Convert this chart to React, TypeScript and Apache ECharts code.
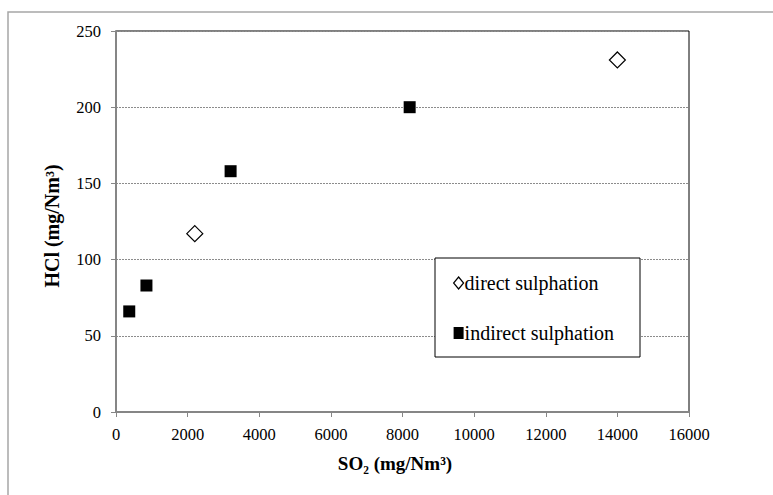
import React, { useEffect, useRef } from "react";
import * as echarts from "echarts";

const directSO2 = [2200, 14000];
const directHCl = [117, 231];
const indirectSO2 = [370, 850, 3200, 8200];
const indirectHCl = [66, 83, 158, 200];
const seriesNames = ["direct sulphation", "indirect sulphation"];
const xTitle = "SO\u2082 (mg/Nm\u00b3)";
const yTitle = "HCl (mg/Nm\u00b3)";

const FONT = "Liberation Serif, serif";

export default function App() {
  const ref = useRef<HTMLDivElement>(null);
  useEffect(() => {
    if (!ref.current) return;
    const chart = echarts.init(ref.current, null, { renderer: "svg" });
    const direct = directSO2.map((x, i) => [x, directHCl[i]]);
    const indirect = indirectSO2.map((x, i) => [x, indirectHCl[i]]);
    chart.setOption({
      animation: false,
      backgroundColor: "#fff",
      textStyle: { fontFamily: FONT },
      grid: {
        left: 116,
        right: 84,
        top: 31,
        bottom: 83,
        show: true,
        borderColor: "#000",
        borderWidth: 1,
        backgroundColor: "transparent",
      },
      xAxis: {
        type: "value",
        min: 0,
        max: 16000,
        interval: 2000,
        splitLine: { show: false },
        axisLine: { show: true, onZero: false, lineStyle: { color: "#868686", width: 2 } },
        axisTick: { show: true, inside: false, length: 5, lineStyle: { color: "#868686", width: 1 } },
        axisLabel: {
          margin: 14,
          fontFamily: FONT,
          fontSize: 16.5,
          color: "#000",
          formatter: (v: number) => String(v),
        },
      },
      yAxis: {
        type: "value",
        min: 0,
        max: 250,
        interval: 50,
        splitLine: { show: true, lineStyle: { color: "#8c8c8c", type: [2, 1], width: 1 } },
        axisLine: { show: true, onZero: false, lineStyle: { color: "#868686", width: 2 } },
        axisTick: { show: true, inside: false, length: 5, lineStyle: { color: "#868686", width: 1 } },
        axisLabel: {
          margin: 15,
          fontFamily: FONT,
          fontSize: 16.5,
          color: "#000",
          formatter: (v: number) => String(v),
        },
      },
      legend: {
        orient: "vertical",
        left: 453,
        top: 273,
        itemWidth: 10,
        itemHeight: 12,
        itemGap: 30,
        padding: 0,
        textStyle: { fontFamily: FONT, fontSize: 20, color: "#000", lineHeight: 20, padding: [0, 0, 0, -4] },
        data: [
          { name: seriesNames[0], icon: "diamond", itemStyle: { color: "#fff", borderColor: "#000", borderWidth: 1.2, opacity: 1 } },
          { name: seriesNames[1], icon: "rect", itemStyle: { color: "#000", opacity: 1 } },
        ],
      },
      graphic: [
        {
          type: "rect",
          shape: { x: 8, y: 12, width: 800, height: 520 },
          style: { fill: "none", stroke: "#a6a6a6", lineWidth: 1.5 },
          silent: true,
          z: -10,
        },
        {
          type: "rect",
          shape: { x: 435, y: 258, width: 205, height: 99 },
          style: { fill: "#fff", stroke: "#000", lineWidth: 1 },
          silent: true,
          z: 1,
        },
        {
          type: "text",
          x: 395,
          y: 463,
          style: {
            text: xTitle,
            fontFamily: FONT,
            fontWeight: "bold",
            fontSize: 19,
            fill: "#000",
            textAlign: "center",
            textVerticalAlign: "middle",
          },
        },
        {
          type: "text",
          x: 52,
          y: 226,
          rotation: Math.PI / 2,
          style: {
            text: yTitle,
            fontFamily: FONT,
            fontWeight: "bold",
            fontSize: 20,
            fill: "#000",
            textAlign: "center",
            textVerticalAlign: "middle",
          },
        },
      ],
      series: [
        {
          name: seriesNames[0],
          type: "scatter",
          data: direct,
          symbol: "diamond",
          symbolSize: 16,
          itemStyle: { color: "#fff", borderColor: "#000", borderWidth: 1.2, opacity: 1 },
          z: 3,
        },
        {
          name: seriesNames[1],
          type: "scatter",
          data: indirect,
          symbol: "rect",
          symbolSize: 12,
          itemStyle: { color: "#000", opacity: 1 },
          z: 3,
        },
      ],
    });
    return () => chart.dispose();
  }, []);
  return (
    <div
      ref={ref}
      style={{ position: "fixed", left: 0, top: 0, width: 773, height: 495 }}
    />
  );
}
